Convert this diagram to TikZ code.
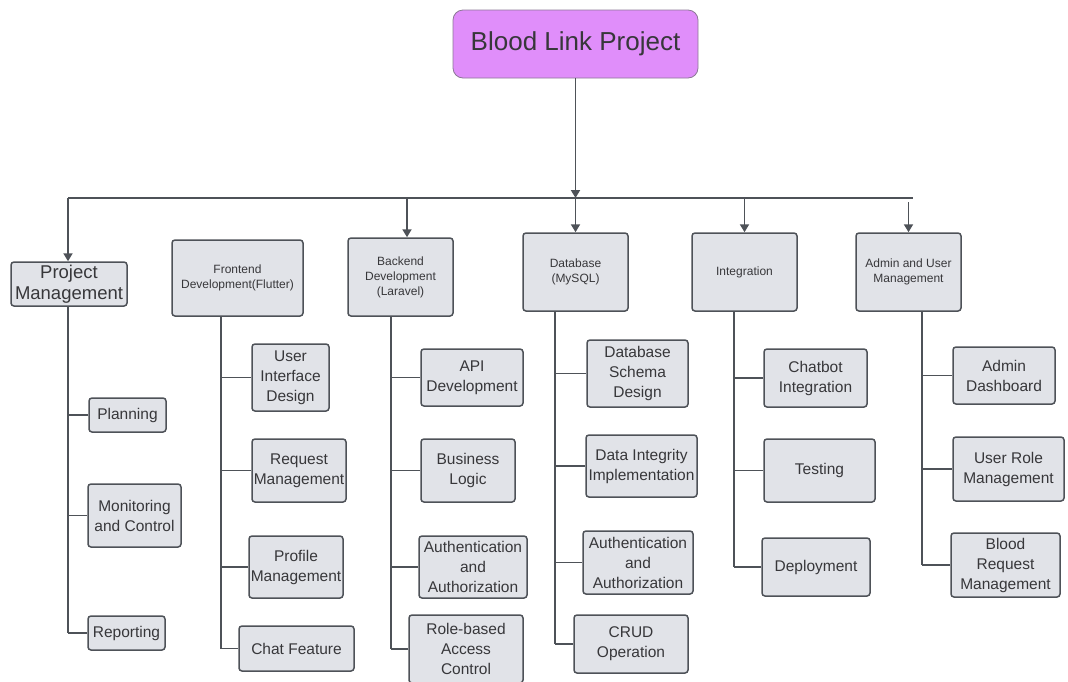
\documentclass[tikz,border=0pt]{standalone}
\usepackage{fontspec}
\setmainfont{Liberation Sans}
\usetikzlibrary{arrows.meta}
\definecolor{boxfill}{RGB}{225,227,232}
\definecolor{boxline}{RGB}{78,82,88}
\definecolor{txt}{RGB}{55,55,58}
\definecolor{rootfill}{RGB}{224,142,250}
\definecolor{rootline}{RGB}{140,120,150}
\begin{document}
\begin{tikzpicture}[x=1pt,y=-1pt,
  cbox/.style={draw=boxline,fill=boxfill,rounded corners=3pt,line width=1.5pt,inner sep=0pt,align=center,text=txt,font=\fontsize{15.5}{20}\selectfont},
  hbox/.style={cbox,font=\fontsize{12}{15}\selectfont},
  link/.style={draw=boxline,line width=1.8pt},
  arr/.style={link,-{Triangle[length=8pt,width=9pt]}}]
\useasboundingbox (0,0) rectangle (1068,681);
% root
\node[draw=rootline,fill=rootfill,rounded corners=10pt,line width=0.8pt,minimum width=245pt,minimum height=68pt,inner sep=0pt,text=txt,font=\fontsize{26}{30}\selectfont] (root) at (575.5,44) {Blood Link Project};
% headers
\node[cbox,font=\fontsize{18.5}{21}\selectfont,minimum width=116pt,minimum height=44pt] (pm) at (69,284) {Project\\Management};
\node[hbox,minimum width=131pt,minimum height=76pt] (fe) at (237.5,278) {Frontend\\Development(Flutter)};
\node[hbox,minimum width=105pt,minimum height=78pt] (be) at (400.5,277) {Backend\\Development\\(Laravel)};
\node[hbox,minimum width=105pt,minimum height=78pt] (db) at (575.5,272) {Database\\(MySQL)};
\node[hbox,minimum width=105pt,minimum height=78pt] (int) at (744.5,272) {Integration};
\node[hbox,minimum width=105pt,minimum height=78pt] (adm) at (908.5,272) {Admin and User\\Management};
% bus
\coordinate (busL) at (68,198);
\coordinate (busR) at (913,198);
\draw[link] (busL) -- (busR);
\draw[arr] (root.south) -- (root.south |- busL);
\draw[arr] (root.south |- busL) -- (db.north);
\draw[arr] ([xshift=-1pt]pm.north |- busL) -- ([xshift=-1pt]pm.north);
\draw[arr] ([xshift=6.5pt]be.north |- busL) -- ([xshift=6.5pt]be.north);
\draw[arr] (int.north |- busL) -- (int.north);
\draw[arr] ([yshift=-4pt]adm.north |- busR) -- (adm.north);
% Project Management children
\node[cbox,minimum width=77pt,minimum height=34pt] (plan) at (127.5,415) {Planning};
\node[cbox,minimum width=93pt,minimum height=63pt] (mon) at (134.5,515.5) {Monitoring\\and Control};
\node[cbox,minimum width=77pt,minimum height=34pt] (rep) at (126.5,633) {Reporting};
\coordinate (pmT) at (68,633);
\draw[link] (pmT |- pm.south) -- (pmT);
\foreach \c in {plan,mon,rep} \draw[link] (\c.west) -- (\c.west -| pmT);
% Frontend children
\node[cbox,minimum width=77pt,minimum height=67pt] (ui) at (290.5,377.5) {User\\Interface\\Design};
\node[cbox,minimum width=94pt,minimum height=63pt] (req) at (299,470.5) {Request\\Management};
\node[cbox,minimum width=94pt,minimum height=62pt] (prof) at (296,567) {Profile\\Management};
\node[cbox,minimum width=115pt,minimum height=45pt] (chat) at (296.5,648.5) {Chat Feature};
\coordinate (feT) at (221,649);
\draw[link] (feT |- fe.south) -- (feT);
\foreach \c in {ui,req,prof,chat} \draw[link] (\c.west) -- (\c.west -| feT);
% Backend children
\node[cbox,minimum width=102pt,minimum height=57pt] (api) at (472,377.5) {API\\Development};
\node[cbox,minimum width=94pt,minimum height=63pt] (bl) at (468,470.5) {Business\\Logic};
\node[cbox,minimum width=108pt,minimum height=62pt] (auth) at (473,567) {Authentication\\and\\Authorization};
\node[cbox,minimum width=114pt,minimum height=68pt] (rbac) at (466,649) {Role-based\\Access\\Control};
\coordinate (beT) at (391,649);
\draw[link] (beT |- be.south) -- (beT);
\foreach \c in {api,bl,auth,rbac} \draw[link] (\c.west) -- (\c.west -| beT);
% Database children
\node[cbox,minimum width=101pt,minimum height=67pt] (schema) at (637.5,373.5) {Database\\Schema\\Design};
\node[cbox,minimum width=111pt,minimum height=62pt] (integ) at (641.5,466) {Data Integrity\\Implementation};
\node[cbox,minimum width=110pt,minimum height=63pt] (autht) at (638,562.5) {Authentication\\and\\Authorization};
\node[cbox,minimum width=114pt,minimum height=58pt] (crud) at (631,644) {CRUD\\Operation};
\coordinate (dbT) at (555,644);
\draw[link] (dbT |- db.south) -- (dbT);
\foreach \c in {schema,integ,autht,crud} \draw[link] (\c.west) -- (\c.west -| dbT);
% Integration children
\node[cbox,minimum width=103pt,minimum height=58pt] (cbot) at (815.5,378) {Chatbot\\Integration};
\node[cbox,minimum width=111pt,minimum height=63pt] (test) at (819.5,470.5) {Testing};
\node[cbox,minimum width=108pt,minimum height=58pt] (dep) at (816,567) {Deployment};
\coordinate (intT) at (734,567);
\draw[link] (intT |- int.south) -- (intT);
\foreach \c in {cbot,test,dep} \draw[link] (\c.west) -- (\c.west -| intT);
% Admin children
\node[cbox,minimum width=102pt,minimum height=57pt] (dash) at (1004,375.5) {Admin\\Dashboard};
\node[cbox,minimum width=111pt,minimum height=64pt] (urm) at (1008.5,469) {User Role\\Management};
\node[cbox,minimum width=109pt,minimum height=64pt] (brm) at (1005.5,565) {Blood\\Request\\Management};
\coordinate (admT) at (922,565);
\draw[link] (admT |- adm.south) -- (admT);
\foreach \c in {dash,urm,brm} \draw[link] (\c.west) -- (\c.west -| admT);
\end{tikzpicture}
\end{document}
